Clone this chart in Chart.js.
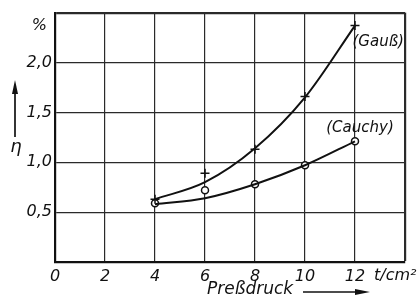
<!DOCTYPE html>
<html>
<head>
<meta charset="utf-8">
<script src="https://cdn.jsdelivr.net/npm/chart.js@4.4.1/dist/chart.umd.min.js"></script>
<style>
    html, body { margin: 0; padding: 0; background: #fff; }
    #box { width: 417px; height: 300px; }
</style>
</head>
<body>
<div id="box"><canvas id="chart" width="417" height="300"></canvas></div>
<script>
"use strict";

// pressure values (t/cm²)
const pressure = [4, 6, 8, 10, 12];

// measured points
const gaussPoints = [0.63, 0.89, 1.13, 1.66, 2.37];
const cauchyPoints = [0.59, 0.72, 0.78, 0.97, 1.21];

// drawn fit curves
const gaussCurve = [0.63, 0.80, 1.14, 1.65, 2.37];
const cauchyCurve = [0.58, 0.64, 0.78, 0.97, 1.21];

// axis ticks
const xTicks = [0, 2, 4, 6, 8, 10, 12];
const yTicks = ["", "0,5", "1,0", "1,5", "2,0", ""];

const ink = "#111";
const font = "'DejaVu Sans', sans-serif";

function toPoints(xs, ys) {
    return xs.map((x, i) => ({ x: x, y: ys[i] }));
}

// extra lettering: axis names, arrows, curve labels
const lettering = {
    id: "lettering",
    afterDraw(chart) {
        const ctx = chart.ctx;
        const xs = chart.scales.x;
        const ys = chart.scales.y;
        const area = chart.chartArea;

        ctx.save();
        ctx.fillStyle = ink;
        ctx.strokeStyle = ink;
        ctx.font = "oblique 16px " + font;
        ctx.textBaseline = "middle";

        // unit on last x tick
        ctx.textAlign = "left";
        ctx.fillText("t/cm²", xs.getPixelForValue(14) - 31, area.bottom + 14);

        // percent sign at top of y axis
        ctx.textAlign = "right";
        ctx.fillText("%", area.left - 8, area.top + 13);

        // eta with arrow
        ctx.font = "oblique 18px " + font;
        ctx.textAlign = "center";
        ctx.fillText("η", 16, 147);
        ctx.lineWidth = 1.7;
        ctx.beginPath();
        ctx.moveTo(15, 137);
        ctx.lineTo(15, 88);
        ctx.stroke();
        ctx.beginPath();
        ctx.moveTo(15, 80);
        ctx.lineTo(12, 94);
        ctx.lineTo(18, 94);
        ctx.closePath();
        ctx.fill();

        // x axis title with arrow
        ctx.font = "oblique 17px " + font;
        ctx.textAlign = "left";
        ctx.fillText("Preßdruck", 207, 290);
        ctx.beginPath();
        ctx.moveTo(303, 292);
        ctx.lineTo(360, 292);
        ctx.stroke();
        ctx.beginPath();
        ctx.moveTo(370, 292);
        ctx.lineTo(355, 289);
        ctx.lineTo(355, 295);
        ctx.closePath();
        ctx.fill();

        // curve names
        ctx.font = "oblique 15px " + font;
        ctx.fillText("(Gauß)", xs.getPixelForValue(11.9), ys.getPixelForValue(2.2));
        ctx.fillText("(Cauchy)", xs.getPixelForValue(10.85), ys.getPixelForValue(1.34));

        ctx.restore();
    }
};

const gridWidth = (max) => (c) => (c.tick && c.tick.value === max ? 2.2 : 1.2);

new Chart(document.querySelector("#chart"), {
    type: "scatter",
    data: {
        datasets: [
            {
                label: "Gauß fit",
                data: toPoints(pressure, gaussCurve),
                showLine: true,
                cubicInterpolationMode: "monotone",
                borderColor: ink,
                borderWidth: 2,
                pointRadius: 0
            },
            {
                label: "Cauchy fit",
                data: toPoints(pressure, cauchyCurve),
                showLine: true,
                cubicInterpolationMode: "monotone",
                borderColor: ink,
                borderWidth: 2,
                pointRadius: 0
            },
            {
                label: "Gauß",
                data: toPoints(pressure, gaussPoints),
                pointStyle: "cross",
                pointRadius: 4.5,
                borderColor: ink,
                borderWidth: 1.5
            },
            {
                label: "Cauchy",
                data: toPoints(pressure, cauchyPoints),
                pointStyle: "circle",
                pointRadius: 3.5,
                backgroundColor: "#fff",
                borderColor: ink,
                borderWidth: 1.5
            }
        ]
    },
    options: {
        responsive: false,
        animation: false,
        devicePixelRatio: 1,
        layout: { padding: { top: 10, right: 12, left: 0, bottom: 0 } },
        plugins: {
            legend: { display: false },
            tooltip: { enabled: false }
        },
        scales: {
            x: {
                type: "linear",
                min: 0,
                max: 14,
                afterFit(scale) { scale.height = 38; },
                afterBuildTicks(scale) {
                    scale.ticks = xTicks.concat([14]).map(v => ({ value: v }));
                },
                ticks: {
                    color: ink,
                    font: { family: font, size: 16, style: "italic" },
                    padding: 5,
                    maxRotation: 0,
                    callback: (v) => (xTicks.includes(v) ? String(v) : "")
                },
                grid: {
                    color: "#2a2a2a",
                    lineWidth: gridWidth(14),
                    drawTicks: false
                },
                border: { display: true, color: ink, width: 2.2 }
            },
            y: {
                min: 0,
                max: 2.5,
                afterFit(scale) { scale.width = 55; },
                ticks: {
                    stepSize: 0.5,
                    color: ink,
                    font: { family: font, size: 16, style: "italic" },
                    padding: 3,
                    callback: (v, i) => yTicks[i]
                },
                grid: {
                    color: "#2a2a2a",
                    lineWidth: gridWidth(2.5),
                    drawTicks: false
                },
                border: { display: true, color: ink, width: 2.2 }
            }
        }
    },
    plugins: [lettering]
});
</script>
</body>
</html>
